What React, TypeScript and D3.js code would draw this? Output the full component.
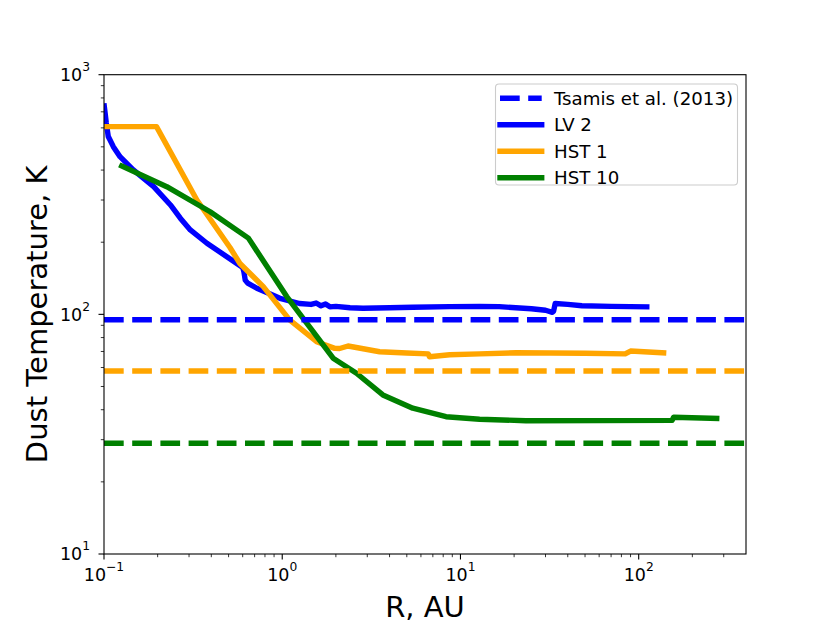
import React from 'react';
import * as d3 from 'd3';

// LV 2 model (blue)
const lv2R = [0.1003, 0.1015, 0.103, 0.1057, 0.1128, 0.123, 0.146, 0.19, 0.236, 0.268, 0.305, 0.378, 0.489, 0.6, 0.61, 0.62, 0.64, 0.72, 0.85, 0.97, 1.25, 1.45, 1.55, 1.65, 1.75, 1.85, 2.0, 2.4, 2.84, 4.0, 5.4, 8.7, 12.8, 16.5, 25, 30, 32.8, 33.3, 34, 40, 48, 70, 111];
const lv2T = [741, 690, 628, 552, 501, 455, 401, 341, 286, 252, 225, 198, 174, 157, 150, 139, 135, 128.5, 122, 116.7, 111, 110, 111.5, 108.5, 110.5, 107.5, 108, 106.5, 106, 106.5, 107, 107.7, 107.8, 107.7, 105.5, 104, 102, 103, 111, 110, 108.6, 108, 107.5];

// HST 1 model (orange)
const hst1R = [0.1, 0.197, 0.332, 0.509, 0.579, 0.783, 1.1, 1.56, 1.97, 2.1, 2.34, 3.52, 5.0, 6.6, 6.7, 8.7, 12.8, 20.5, 50, 84, 90, 138];
const hst1T = [607, 607, 300, 190, 163, 130.6, 94.8, 76.9, 72.1, 72, 73.8, 69.8, 69, 68.4, 66.5, 67.8, 68.4, 69.1, 68.8, 68.4, 70.3, 69.1];

// HST 10 model (green)
const hst10R = [0.1257, 0.225, 0.394, 0.646, 1.06, 1.93, 2.61, 3.67, 5.4, 8.3, 12.8, 23.3, 154, 157, 274];
const hst10T = [416, 341, 268, 208, 118.6, 65.6, 56.8, 46.1, 40.6, 37.4, 36.5, 36.0, 36.1, 37.2, 36.8];

// Tsamis et al. (2013) temperatures (dashed horizontal lines)
const tsamisT = [95, 58, 29];

const seriesColors = ['#0000ff', '#ffa500', '#008000'];
const legendLabels = ['Tsamis et al. (2013)', 'LV 2', 'HST 1', 'HST 10'];

const xTickExps = [-1, 0, 1, 2];
const yTickExps = [1, 2, 3];
const xDomain = [0.1, 400];
const yDomain = [10, 1000];

const FONT = 'DejaVu Sans, sans-serif';

export default function App() {
  const W = 830, H = 623;
  const L = 104, R = 746, T = 74.7, B = 554;
  const x = d3.scaleLog().domain(xDomain).range([L, R]);
  const y = d3.scaleLog().domain(yDomain).range([B, T]);
  const line = d3.line<[number, number]>().x(d => x(d[0])).y(d => y(d[1]));

  const series = [
    { R: lv2R, T: lv2T },
    { R: hst1R, T: hst1T },
    { R: hst10R, T: hst10T },
  ];

  const minorX: number[] = [];
  for (let e = -1; e <= 2; e++) for (let k = 2; k <= 9; k++) {
    const v = k * Math.pow(10, e);
    if (v > xDomain[0] && v < xDomain[1]) minorX.push(v);
  }
  const minorY: number[] = [];
  for (let e = 1; e <= 2; e++) for (let k = 2; k <= 9; k++) {
    const v = k * Math.pow(10, e);
    if (v > yDomain[0] && v < yDomain[1]) minorY.push(v);
  }

  const lw = 5.4;
  const dash = '19.7 8.5';
  const legX = 495.5, legY = 84, legW = 242, legH = 101;
  const rowY = (i: number) => 98.3 + i * 26.5;
  const expStr = (e: number) => (e < 0 ? '\u2212' + Math.abs(e) : String(e));
  const tickFs = 17.5, supFs = 12.3, supDy = -10;

  return (
    <svg width={W} height={H} style={{ position: 'absolute', left: 0, top: 0, background: '#fff' }} fontFamily={FONT}>
      <defs>
        <clipPath id="plotclip">
          <rect x={L} y={T} width={R - L} height={B - T} />
        </clipPath>
      </defs>
      <rect x={0} y={0} width={W} height={H} fill="#fff" />
      <g clipPath="url(#plotclip)">
        {series.map((s, i) => (
          <path key={'s' + i} d={line(s.R.map((r, j) => [r, s.T[j]] as [number, number])) || ''}
            fill="none" stroke={seriesColors[i]} strokeWidth={lw} strokeLinejoin="round" strokeLinecap="square" />
        ))}
        {tsamisT.map((t, i) => (
          <line key={'d' + i} x1={L} x2={R} y1={y(t)} y2={y(t)} stroke={seriesColors[i]}
            strokeWidth={lw} strokeDasharray={dash} strokeLinecap="butt" />
        ))}
      </g>
      {/* spines */}
      <rect x={L} y={T} width={R - L} height={B - T} fill="none" stroke="#000" strokeWidth={1.1} />
      {/* x ticks */}
      {xTickExps.map(e => (
        <g key={'xt' + e}>
          <line x1={x(Math.pow(10, e))} x2={x(Math.pow(10, e))} y1={B} y2={B + 5.5} stroke="#000" strokeWidth={1.1} />
          <text x={x(Math.pow(10, e))} y={581} textAnchor="middle" fontSize={tickFs} fill="#000">
            10<tspan fontSize={supFs} dy={supDy}>{expStr(e)}</tspan>
          </text>
        </g>
      ))}
      {minorX.map((v, i) => (
        <line key={'xm' + i} x1={x(v)} x2={x(v)} y1={B} y2={B + 3.2} stroke="#000" strokeWidth={0.8} />
      ))}
      {/* y ticks */}
      {yTickExps.map(e => (
        <g key={'yt' + e}>
          <line x1={L - 5.5} x2={L} y1={y(Math.pow(10, e))} y2={y(Math.pow(10, e))} stroke="#000" strokeWidth={1.1} />
          <text x={90} y={y(Math.pow(10, e)) + 6.2} textAnchor="end" fontSize={tickFs} fill="#000">
            10<tspan fontSize={supFs} dy={supDy}>{expStr(e)}</tspan>
          </text>
        </g>
      ))}
      {minorY.map((v, i) => (
        <line key={'ym' + i} x1={L - 3.2} x2={L} y1={y(v)} y2={y(v)} stroke="#000" strokeWidth={0.8} />
      ))}
      {/* axis labels */}
      <text x={(L + R) / 2} y={617} textAnchor="middle" fontSize={29} fill="#000">R, AU</text>
      <text transform={`translate(47.3,${(T + B) / 2}) rotate(-90)`} textAnchor="middle" fontSize={29} fill="#000">
        Dust Temperature, K
      </text>
      {/* legend */}
      <rect x={legX} y={legY} width={legW} height={legH} rx={3.5} ry={3.5} fill="#fff" fillOpacity={0.8}
        stroke="#cccccc" strokeWidth={1.1} />
      {legendLabels.map((lab, i) => (
        <g key={'lg' + i}>
          <line x1={500} x2={541.7} y1={rowY(i)} y2={rowY(i)} stroke={i === 0 ? seriesColors[0] : seriesColors[i - 1]}
            strokeWidth={lw} strokeDasharray={i === 0 ? dash : undefined} strokeLinecap={i === 0 ? 'butt' : 'square'} />
          <text x={554} y={rowY(i) + 6.6} fontSize={18.2} fill="#000">{lab}</text>
        </g>
      ))}
    </svg>
  );
}
